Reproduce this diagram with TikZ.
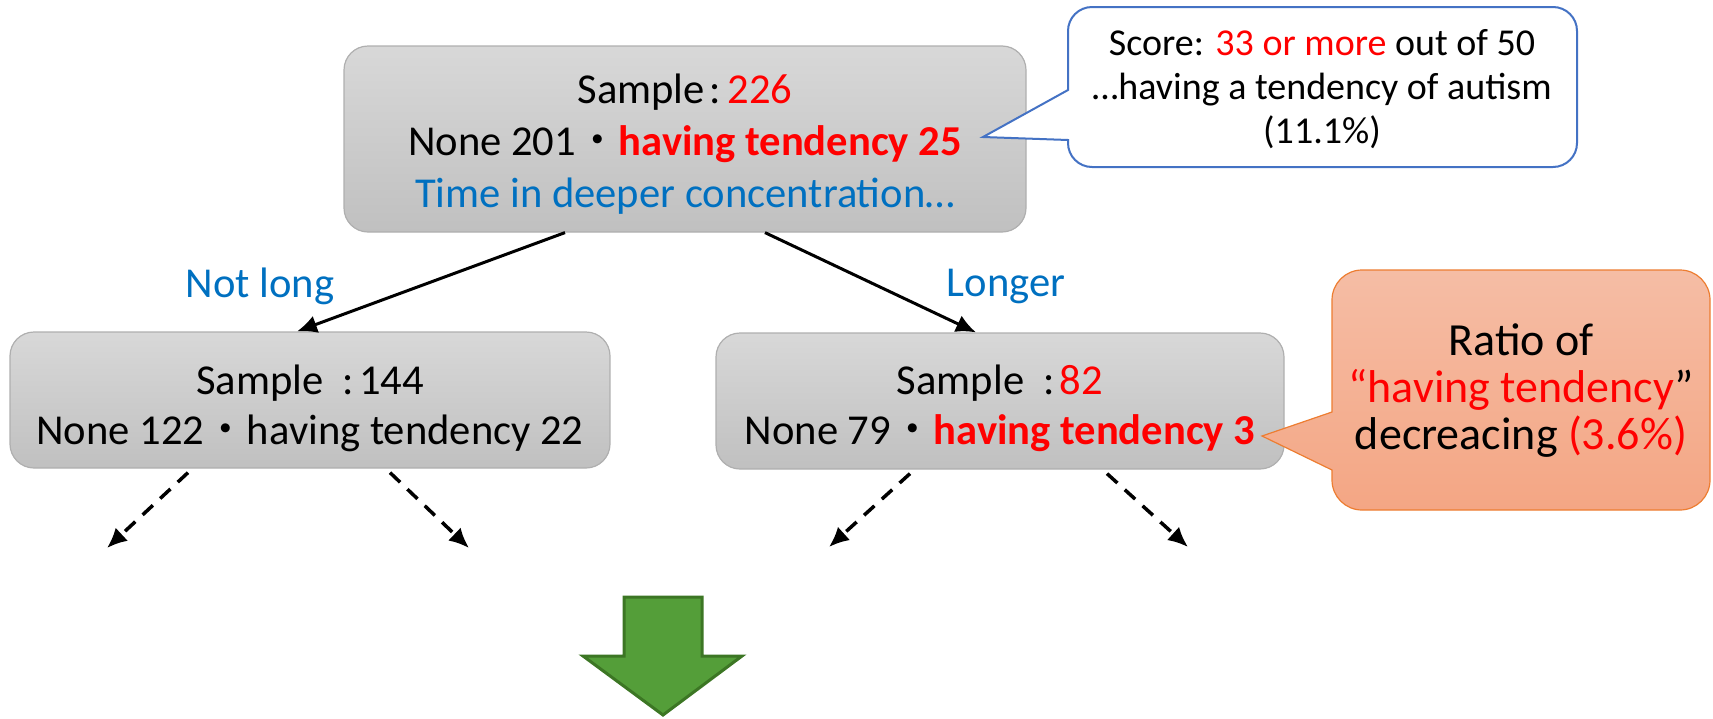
\documentclass[tikz,border=0pt]{standalone}
\usepackage{fontspec}
\setmainfont{Carlito}
\newfontfamily\cjk{Noto Sans CJK JP}
\usetikzlibrary{arrows.meta}

\definecolor{hired}{RGB}{255,0,0}
\definecolor{noteblue}{RGB}{0,112,192}
\definecolor{boxtop}{RGB}{216,216,216}
\definecolor{boxbot}{RGB}{192,192,192}
\definecolor{boxline}{RGB}{175,175,175}
\definecolor{callline}{RGB}{68,114,196}
\definecolor{warmtop}{RGB}{245,189,165}
\definecolor{warmbot}{RGB}{244,166,132}
\definecolor{warmline}{RGB}{237,125,49}
\definecolor{arrowfill}{RGB}{84,158,57}
\definecolor{arrowline}{RGB}{60,118,36}

\tikzset{
  splitbox/.style={rectangle, rounded corners=12pt, draw=boxline, line width=0.6pt,
    top color=boxtop, bottom color=boxbot, inner sep=0pt},
  boxtext/.style={align=center, inner sep=0pt, font=\fontsize{21.3}{25}\selectfont},
  branchlabel/.style={text=noteblue, font=\fontsize{21.3}{25}\selectfont},
  branch/.style={-{Latex[length=10pt,width=9pt]}, line width=1.5pt},
  subbranch/.style={branch, line width=1.75pt, dash pattern=on 7pt off 5pt},
}

\begin{document}
\begin{tikzpicture}[x=0.5pt, y=-0.5pt, line join=miter]
\useasboundingbox (0,0) rectangle (1713,718);

% tree boxes
\node[splitbox, minimum width=341pt, minimum height=93pt] (root) at (685,139) {};
\node[boxtext, font=\fontsize{21.3}{26}\selectfont] (roottext) at (685,144.5)
  {Sample\hspace{0.12em}:\hspace{0.15em}\textcolor{hired}{226}\\
   None 201{\cjk ・}\textcolor{hired}{\bfseries having tendency 25}\\
   \textcolor{noteblue}{Time in deeper concentration…}};
\node[splitbox, minimum width=300pt, minimum height=68pt] (short) at (310,400) {};
\node[boxtext] (shorttext) at (310,408)
  {Sample\hspace{0.45em}:\hspace{0.12em}144\\ None 122{\cjk ・}having tendency 22};
\node[splitbox, minimum width=284pt, minimum height=68pt] (long) at (1000,401) {};
\node[boxtext] (longtext) at (1000,408)
  {Sample\hspace{0.45em}:\hspace{0.12em}\textcolor{hired}{82}\\
   None 79{\cjk ・}\textcolor{hired}{\bfseries having tendency 3}};

% branch labels
\node[branchlabel] (notlong) at (260,286) {Not long};
\node[branchlabel] (longer) at (1006,286) {Longer};

% branches
\draw[branch] ([xshift=-60pt]root.south) -- ([xshift=-6.5pt]short.north);
\draw[branch] ([xshift=40pt]root.south) -- ([xshift=-12pt]long.north);

% further splits
\coordinate (s1) at (107,548);
\coordinate (s2) at (469,548);
\coordinate (l1) at (829,547);
\coordinate (l2) at (1188,547);
\draw[subbranch] ([xshift=-61pt,yshift=-2pt]short.south) -- (s1);
\draw[subbranch] ([xshift=40pt,yshift=-2pt]short.south) -- (s2);
\draw[subbranch] ([xshift=-45pt,yshift=-2pt]long.south) -- (l1);
\draw[subbranch] ([xshift=53.5pt,yshift=-2pt]long.south) -- (l2);

% callout for the threshold
\draw[callline, line width=1pt, fill=white] (1068,90) -- (983,137) -- (1068,140)
  -- (1068,143) arc[start angle=180, end angle=270, radius=12pt]
  -- (1553,167) arc[start angle=270, end angle=360, radius=12pt]
  -- (1577,31) arc[start angle=0, end angle=90, radius=12pt]
  -- (1092,7) arc[start angle=90, end angle=180, radius=12pt] -- cycle;
\node[align=center, font=\fontsize{19}{22}\selectfont] (score) at (1322,89)
  {Score: \textcolor{hired}{33 or more} out of 50\\
   …having a tendency of autism\\ (11.1\%)};

% callout for the ratio
\draw[warmline, line width=0.6pt, top color=warmtop, bottom color=warmbot]
  (1332,412) -- (1262,436) -- (1332,470)
  -- (1332,480) arc[start angle=180, end angle=270, radius=15pt]
  -- (1680,510) arc[start angle=270, end angle=360, radius=15pt]
  -- (1710,300) arc[start angle=0, end angle=90, radius=15pt]
  -- (1362,270) arc[start angle=90, end angle=180, radius=15pt] -- cycle;
\node[align=center, font=\fontsize{23}{23.5}\selectfont] (ratio) at (1521,391)
  {Ratio of\\ \textcolor{hired}{“having tendency}”\\
   decreacing \textcolor{hired}{(3.6\%)}};

% big down arrow
\draw[fill=arrowfill, draw=arrowline, line width=1.5pt]
  (624,597) -- (702,597) -- (702,656) -- (742,656) -- (663,715)
  -- (583,656) -- (624,656) -- cycle;

\end{tikzpicture}
\end{document}
